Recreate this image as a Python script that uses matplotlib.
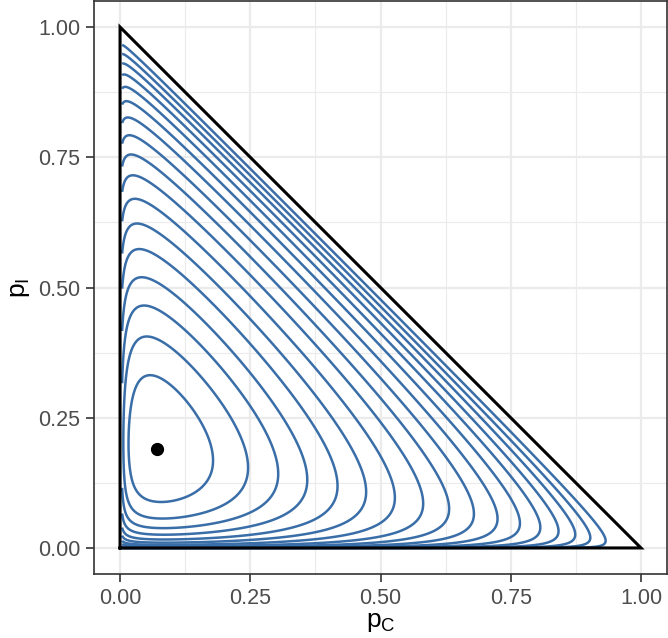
import numpy as np
import matplotlib.pyplot as plt

plt.rcParams['font.family'] = ['Liberation Sans', 'DejaVu Sans']
plt.rcParams['mathtext.fontset'] = 'custom'
plt.rcParams['mathtext.rm'] = 'Liberation Sans'
plt.rcParams['mathtext.it'] = 'Liberation Sans'

# interior fixed point (p_C, p_I)
fixed_pc = 0.07
fixed_pi = 0.19

# where each orbit crosses p_I = 0.19 on its right side
orbit_pc = [0.176, 0.240, 0.294, 0.345, 0.397, 0.445, 0.492, 0.537, 0.577,
            0.614, 0.648, 0.679, 0.706, 0.729, 0.749, 0.766, 0.782]

ticks = [0.0, 0.25, 0.5, 0.75, 1.0]
tick_labels = ["0.00", "0.25", "0.50", "0.75", "1.00"]

w = np.array([fixed_pc, fixed_pi, 1 - fixed_pc - fixed_pi])


def V(pc, pi):
    pd_ = 1 - pc - pi
    with np.errstate(invalid='ignore', divide='ignore'):
        v = w[0] * np.log(pc) + w[1] * np.log(pi) + w[2] * np.log(pd_)
    return np.where(pd_ > 0, v, np.nan)


levels = sorted(V(np.array(orbit_pc), fixed_pi))

# orbits are traced from just off the left edge
gx = np.concatenate([np.linspace(0.004, 0.02, 200), np.linspace(0.02, 1, 1500)[1:]])
gy = np.concatenate([np.geomspace(1e-7, 0.01, 400), np.linspace(0.01, 1, 1500)[1:]])
X, Y = np.meshgrid(gx, gy)
Z = V(X, Y)

fig = plt.figure(figsize=(6.68, 6.38), dpi=100)
ax = fig.add_axes([94 / 668, 64 / 638, 573 / 668, 573 / 638])

ax.contour(X, Y, Z, levels=levels, colors='#3A6EA8', linewidths=1.8,
           linestyles='solid', zorder=2)
ax.plot([0, 1, 0, 0], [0, 0, 1, 0], color='black', linewidth=2.2, zorder=3,
        solid_joinstyle='miter')
ax.plot([fixed_pc], [fixed_pi], 'o', color='black', markersize=8.5, zorder=4)

ax.set_xlim(-0.05, 1.05)
ax.set_ylim(-0.05, 1.05)
ax.set_xticks(ticks)
ax.set_xticklabels(tick_labels)
ax.set_yticks(ticks)
ax.set_yticklabels(tick_labels)
ax.set_xticks([0.125, 0.375, 0.625, 0.875], minor=True)
ax.set_yticks([0.125, 0.375, 0.625, 0.875], minor=True)
ax.grid(True, which='major', color='#EBEBEB', linewidth=1.6)
ax.grid(True, which='minor', color='#EBEBEB', linewidth=0.8)
ax.set_axisbelow(True)
ax.tick_params(which='major', length=6, width=1.2, color='#333333',
               labelsize=15.5, labelcolor='#4D4D4D', pad=4)
ax.tick_params(which='minor', length=0)
for s in ax.spines.values():
    s.set_color('#333333')
    s.set_linewidth(1.2)

ax.set_xlabel(r'$\mathregular{p_C}$', fontsize=19, labelpad=1)
ax.set_ylabel(r'$\mathregular{p_I}$', fontsize=19, labelpad=4)

fig.savefig('out.png', dpi=100)
